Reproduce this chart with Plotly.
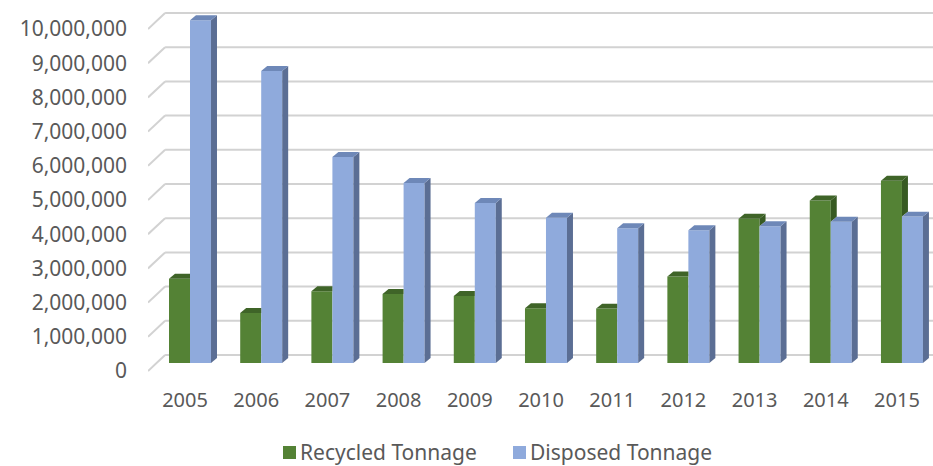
import plotly.graph_objects as go

years = ["2005", "2006", "2007", "2008", "2009", "2010", "2011", "2012", "2013", "2014", "2015"]
recycled = [2460000, 1460000, 2100000, 2020000, 1960000, 1600000, 1590000, 2530000, 4220000, 4750000, 5330000]
disposed = [10020000, 8540000, 6020000, 5260000, 4680000, 4250000, 3940000, 3880000, 4000000, 4130000, 4280000]
series_names = ["Recycled Tonnage", "Disposed Tonnage"]
y_ticks = [0, 1000000, 2000000, 3000000, 4000000, 5000000, 6000000, 7000000, 8000000, 9000000, 10000000]

GREEN, GREEN_TOP, GREEN_SIDE = "#548235", "#3f6428", "#375a22"
BLUE, BLUE_TOP, BLUE_SIDE = "#8faadc", "#6e88b8", "#5b6e94"
TXT = "#595959"
FONT = "Noto Sans"

W = 0.295          # bar width (category units)
OFF_G = -0.225
OFF_B = OFF_G + W
DX = 0.084         # depth in x (category units)
DY = 146000        # depth in y (value units)
X_RANGE = [-0.52, 10.506]
Y_RANGE = [-351000, 10468000]
LABEL_SHIFT = 234000   # labels sit on the front plane
WALL_UP = 234000       # back wall raised vs bar plane
WALL_X = -0.28         # back wall left edge in category units

# plot-area geometry in pixels (for legend placement)
ML, MT, MB, WID, HEI = 148, 5, 91, 933, 466
PW, PH = WID - ML, HEI - MT - MB
def px(xp): return (xp - ML) / PW
def py(yp): return (HEI - MB - yp) / PH

xs = list(range(len(years)))
fig = go.Figure()
fig.add_trace(go.Bar(x=xs, y=recycled, name=series_names[0], width=W, offset=OFF_G,
                     marker=dict(color=GREEN, line=dict(width=0))))
fig.add_trace(go.Bar(x=xs, y=disposed, name=series_names[1], width=W, offset=OFF_B,
                     marker=dict(color=BLUE, line=dict(width=0))))
# invisible trace carrying the front-plane y labels
fig.add_trace(go.Scatter(x=[xs[0]], y=[0], yaxis="y2", mode="markers",
                         marker=dict(opacity=0), showlegend=False, hoverinfo="skip"))

shapes = []
# back wall gridlines with diagonal front edges
for v in y_ticks:
    shapes.append(dict(type="line", xref="x", yref="y", layer="below",
                       x0=WALL_X, x1=X_RANGE[1], y0=v + WALL_UP, y1=v + WALL_UP,
                       line=dict(color="#d2d2d2", width=2)))
    shapes.append(dict(type="line", xref="x", yref="y", layer="below",
                       x0=X_RANGE[0], x1=WALL_X, y0=v - LABEL_SHIFT, y1=v + WALL_UP,
                       line=dict(color="#d2d2d2", width=2)))

def poly(pts):
    return "M " + " L ".join(f"{x},{y}" for x, y in pts) + " Z"

for i, (g, b) in enumerate(zip(recycled, disposed)):
    gl, gr = i + OFF_G, i + OFF_G + W
    bl, br = i + OFF_B, i + OFF_B + W
    if g > b:
        shapes.append(dict(type="path", xref="x", yref="y", line=dict(width=0), fillcolor=GREEN_SIDE,
                           path=poly([(gr, b), (gr + DX, b + DY), (gr + DX, g + DY), (gr, g)])))
        shapes.append(dict(type="path", xref="x", yref="y", line=dict(width=0), fillcolor=GREEN_TOP,
                           path=poly([(gl, g), (gl + DX, g + DY), (gr + DX, g + DY), (gr, g)])))
    else:
        shapes.append(dict(type="path", xref="x", yref="y", line=dict(width=0), fillcolor=GREEN_TOP,
                           path=poly([(gl, g), (gl + DX, g + DY), (gr, g + DY), (gr, g)])))
    shapes.append(dict(type="path", xref="x", yref="y", line=dict(width=0), fillcolor=BLUE_SIDE,
                       path=poly([(br, 0), (br + DX, DY), (br + DX, b + DY), (br, b)])))
    shapes.append(dict(type="path", xref="x", yref="y", line=dict(width=0), fillcolor=BLUE_TOP,
                       path=poly([(bl, b), (bl + DX, b + DY), (br + DX, b + DY), (br, b)])))

# custom legend (Excel style: small square close to its label)
annotations = []
legend_items = [(series_names[0], GREEN, 283), (series_names[1], BLUE, 513)]
for name, col, x0 in legend_items:
    shapes.append(dict(type="rect", xref="paper", yref="paper", line=dict(width=0), fillcolor=col,
                       x0=px(x0), x1=px(x0 + 13), y0=py(459), y1=py(446)))
    annotations.append(dict(xref="paper", yref="paper", x=px(x0 + 16), y=py(451.5), xanchor="left",
                            yanchor="middle", text=name, showarrow=False, borderpad=0,
                            font=dict(family=FONT, size=21, color=TXT)))

fig.update_layout(
    width=WID, height=HEI,
    margin=dict(l=ML, r=0, t=MT, b=MB, autoexpand=False),
    paper_bgcolor="white", plot_bgcolor="rgba(0,0,0,0)",
    font=dict(family=FONT, size=20, color=TXT),
    barmode="overlay",
    shapes=shapes,
    annotations=annotations,
    showlegend=False,
    xaxis=dict(range=X_RANGE, tickmode="array", tickvals=xs, ticktext=years, automargin=False,
               showgrid=False, zeroline=False, showline=False, ticks="", ticklabelstandoff=11,
               tickfont=dict(family=FONT, size=20, color=TXT)),
    yaxis=dict(range=Y_RANGE, showgrid=False, zeroline=False, showticklabels=False, automargin=False),
    yaxis2=dict(range=[Y_RANGE[0] + LABEL_SHIFT, Y_RANGE[1] + LABEL_SHIFT], overlaying="y", side="left",
                tickmode="array", tickvals=y_ticks, tickformat=",d", automargin=False,
                showgrid=False, zeroline=False, ticks="", ticklabelstandoff=20,
                tickfont=dict(family=FONT, size=21, color=TXT)),
)

fig.write_html("out.html")
